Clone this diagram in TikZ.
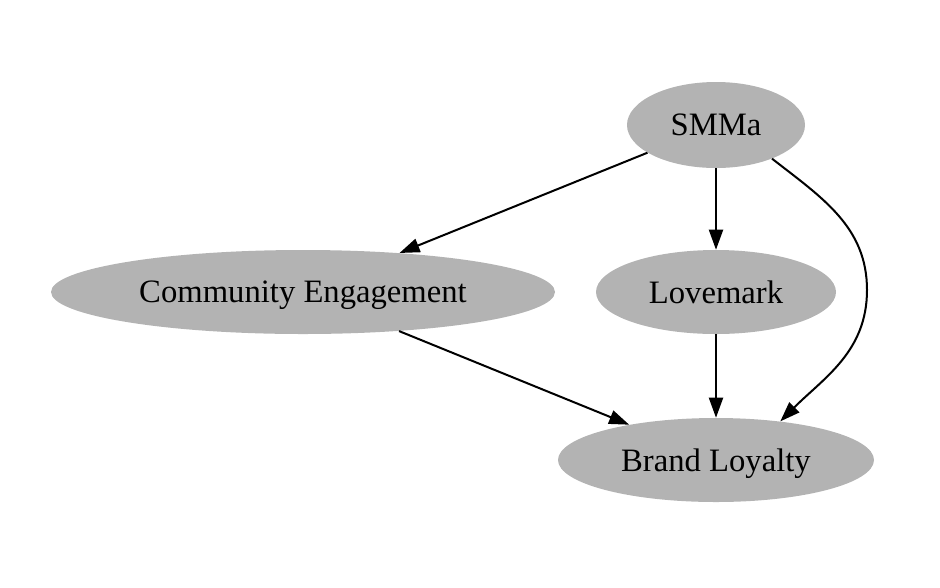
\documentclass[tikz,border=0pt]{standalone}
\usepackage{fontspec}
\setmainfont{Liberation Serif}
\usetikzlibrary{arrows.meta,shapes.geometric}
\definecolor{nodegray}{HTML}{B3B3B3}

\begin{document}
\begin{tikzpicture}[x=0.75pt,y=-0.75pt,>={Triangle[length=15pt,width=10.5pt]},
    every node/.style={font=\fontsize{24.5pt}{28pt}\selectfont},
    blob/.style={ellipse,fill=nodegray,inner sep=0pt,text depth=0pt,minimum height=63pt},
    edge/.style={->,line width=1.5pt}]
  \useasboundingbox (0,0) rectangle (940,587);
  % ---- nodes ----
  \node[blob,minimum width=133.5pt,minimum height=64.5pt] (smma) at (716,125) {SMMa};
  \node[blob,minimum width=378pt] (ce) at (303,292) {Community Engagement};
  \node[blob,minimum width=180pt] (lm) at (716,292) {Lovemark};
  \node[blob,minimum width=237pt] (bl) at (716,460) {Brand Loyalty};
  \coordinate (bend) at (867,290);
  % ---- edges ----
  \draw[edge] (smma)--(ce); \draw[edge] (smma)--(lm);
  \draw[edge] (smma.-31) to[out=-38,in=90] (bend) to[out=-90,in=45] (bl.31);
  \draw[edge] (ce)--(bl); \draw[edge] (lm)--(bl);
\end{tikzpicture}
\end{document}
